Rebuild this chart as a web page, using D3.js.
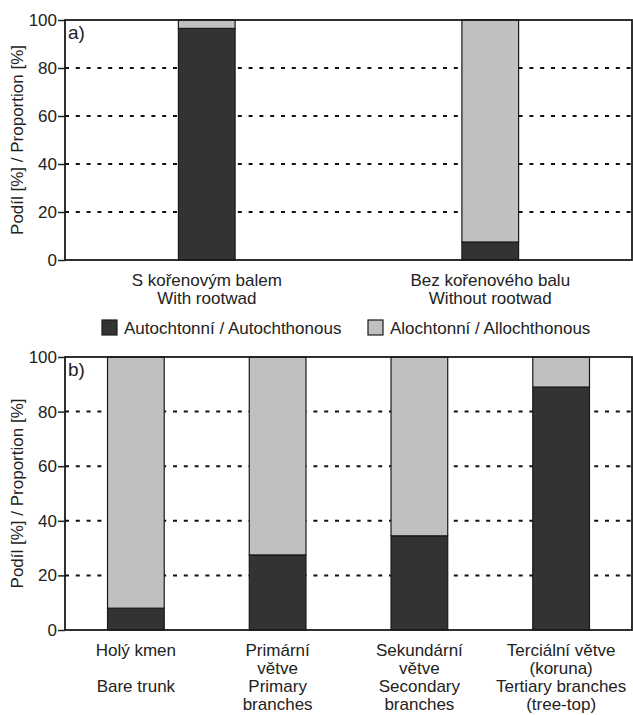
<html>
<head>
<meta charset="UTF-8">
<script src="https://d3js.org/d3.v7.min.js"></script>
<style>
  body { margin: 0; background: #fff; }
  svg text { font-family: "Liberation Sans", Arial, sans-serif; fill: #222; }
  .grid line { stroke: #111; stroke-width: 2; stroke-dasharray: 4 6.8; }
  .axis .domain { display: none; }
  .axis line { stroke: #222; stroke-width: 1.5; }
  .axis text { font-size: 17px; }
</style>
</head>
<body>
<svg id="chart" width="633" height="715"></svg>
<script>
// panel a data
const catsA = ["S kořenovým balem\nWith rootwad", "Bez kořenového balu\nWithout rootwad"];
const autoA = [96.5, 7.5];
const alloA = [3.5, 92.5];

// panel b data
const catsB = ["Holý kmen\n\nBare trunk", "Primární\nvětve\nPrimary\nbranches",
               "Sekundární\nvětve\nSecondary\nbranches", "Terciální větve\n(koruna)\nTertiary branches\n(tree-top)"];
const autoB = [8, 27.5, 34.5, 89];
const alloB = [92, 72.5, 65.5, 11];

const yTicks = [0, 20, 40, 60, 80, 100];
const seriesNames = ["Autochtonní / Autochthonous", "Alochtonní / Allochthonous"];
const colors = ["#333333", "#c0c0c0"];
const yTitle = "Podíl [%] / Proportion [%]";

const svg = d3.select("#chart");
const left = 65, right = 632;

function panel(cats, auto, allo, top, bottom, pad, tag) {
  const g = svg.append("g");
  const x = d3.scaleBand().domain(cats).range([left, right])
              .paddingInner(pad).paddingOuter(pad / 2);
  const y = d3.scaleLinear().domain([0, 100]).range([bottom, top]);

  // dotted gridlines
  g.append("g").attr("class", "grid")
   .selectAll("line").data(yTicks.filter(d => d > 0 && d < 100))
   .join("line")
   .attr("x1", left).attr("x2", right)
   .attr("y1", d => y(d)).attr("y2", d => y(d));

  // stacked bars
  const rows = cats.map((c, i) => ({cat: c, auto: auto[i], allo: allo[i]}));
  const stack = d3.stack().keys(["auto", "allo"])(rows);
  g.selectAll("g.series").data(stack).join("g")
   .attr("class", "series")
   .attr("fill", (d, i) => colors[i])
   .selectAll("rect").data(d => d).join("rect")
   .attr("x", d => x(d.data.cat))
   .attr("width", x.bandwidth())
   .attr("y", d => y(d[1]))
   .attr("height", d => y(d[0]) - y(d[1]))
   .attr("stroke", "#1a1a1a").attr("stroke-width", 1.2);

  // frame
  g.append("rect").attr("x", left).attr("y", top)
   .attr("width", right - left).attr("height", bottom - top)
   .attr("fill", "none").attr("stroke", "#1a1a1a").attr("stroke-width", 1.8);

  // y axis
  g.append("g").attr("class", "axis")
   .attr("transform", `translate(${left},0)`)
   .call(d3.axisLeft(y).tickValues(yTicks).tickSize(7).tickPadding(1));

  // y title
  g.append("text")
   .attr("transform", `translate(23,${(top + bottom) / 2}) rotate(-90)`)
   .attr("text-anchor", "middle").attr("font-size", 17).text(yTitle);

  // panel tag
  g.append("text").attr("x", left + 3).attr("y", top + 19)
   .attr("font-size", 19).text(tag);

  // category labels, one text per line
  cats.forEach(c => {
    const cx = x(c) + x.bandwidth() / 2;
    g.selectAll(null).data(c.split("\n")).join("text")
     .attr("text-anchor", "middle").attr("font-size", 17)
     .attr("x", cx)
     .attr("y", (d, i) => bottom + 26 + i * 18)
     .text(d => d);
  });
}

panel(catsA, autoA, alloA, 20, 260, 0.8, "a)");
panel(catsB, autoB, alloB, 357, 630, 0.6, "b)");

// legend
const legendX = [102, 368];
const lg = svg.append("g").selectAll("g").data(seriesNames).join("g")
  .attr("transform", (d, i) => `translate(${legendX[i]},320)`);
lg.append("rect").attr("width", 15).attr("height", 15)
  .attr("fill", (d, i) => colors[i]).attr("stroke", "#1a1a1a").attr("stroke-width", 1.2);
lg.append("text").attr("x", 22).attr("y", 13.5).attr("font-size", 17).text(d => d);
</script>
</body>
</html>
